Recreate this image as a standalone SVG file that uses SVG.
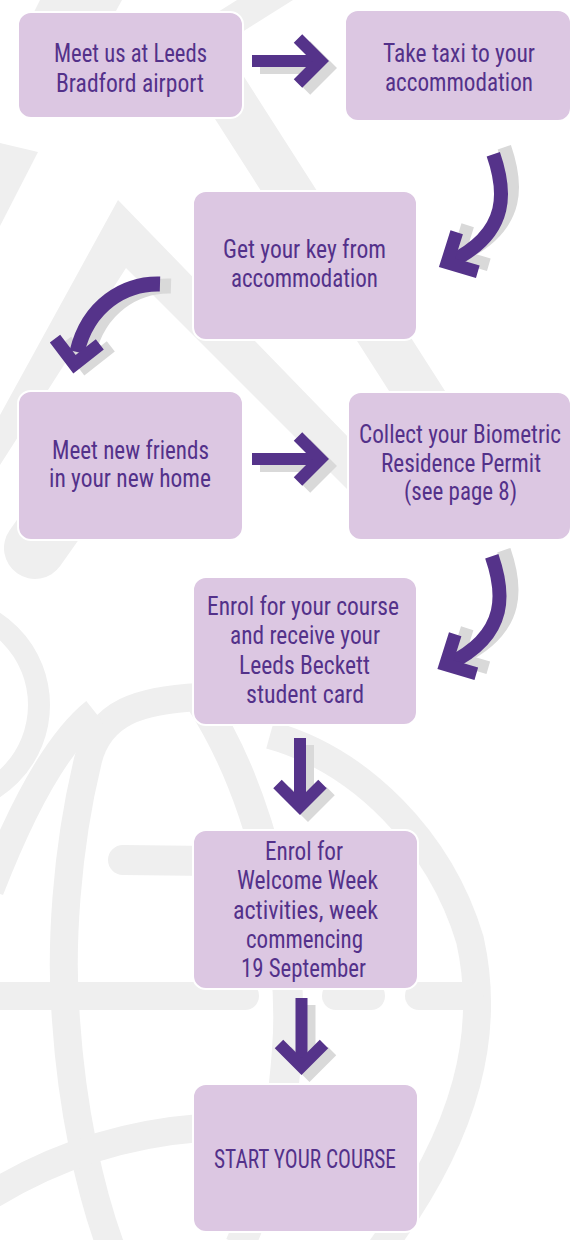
<svg xmlns="http://www.w3.org/2000/svg" width="579" height="1240" viewBox="0 0 579 1240">
<style>
.box{fill:#dcc7e2;stroke:#ffffff;stroke-width:2}
.t{font-family:"Liberation Sans Narrow","Roboto Condensed","DejaVu Sans Condensed","Liberation Sans",sans-serif;font-stretch:condensed;font-size:25px;fill:#53318a;text-anchor:middle}
.arr{fill:none;stroke:#55338a;stroke-linejoin:miter;stroke-miterlimit:10}
.sh{fill:none;stroke:#d9d9d9;stroke-linejoin:miter;stroke-miterlimit:10}
.bg{fill:#efefef}
.bgs{fill:none;stroke:#efefef}
</style>
<defs>
<g id="rightArrow">
<line x1="252" y1="61" x2="320" y2="61" stroke-width="12"/>
<polyline points="298,38.5 320.5,61 298,83.5" stroke-width="12"/>
</g>
<g id="downArrow">
<line x1="300" y1="738" x2="300" y2="806" stroke-width="12"/>
<polyline points="277.5,784 300,806.5 322.5,784" stroke-width="12"/>
</g>
<g id="curveRight">
<path d="M493.3 154.2 C505 188 512 232 450 262" stroke-width="14"/>
<polyline points="456.7,232.3 447.1,262.7 477.8,271.7" stroke-width="13"/>
</g>
<g id="curveLeft">
<path d="M160 284 C125 283 88 305 77 352" stroke-width="15"/>
<polyline points="55,338.6 74.5,364.2 99.8,344.4" stroke-width="13"/>
</g>
</defs>
<rect width="579" height="1240" fill="#ffffff"/>
<g id="background">
<polygon class="bg" points="40,0 122,0 100,40 20,40"/>
<polygon class="bg" points="0,143 38,152 0,226"/>
<polygon class="bg" points="237,0 293,0 223,44 527.6,520 471.6,520 167,44"/>
<polygon class="bg" points="118,200 448,540 398,540 126,268 0,465 0,415"/>
<line class="bgs" x1="90" y1="470" x2="35" y2="548" stroke-width="62" stroke-linecap="round"/>
<circle class="bgs" cx="-60" cy="705" r="99" stroke-width="22"/>
<path class="bgs" d="M200 697 C140 700 100 712 88 760 C66 850 60 950 66 1020 C72 1110 90 1190 110 1245" stroke-width="28"/>
<path class="bgs" d="M95 712 C60 740 25 800 -10 890" stroke-width="28"/>
<path class="bgs" d="M270 735 C360 760 440 840 470 940 C490 1030 470 1130 380 1250" stroke-width="28"/>
<path class="bgs" d="M200 700 C265 800 295 950 287 1050 C280 1150 260 1200 240 1245" stroke-width="30"/>
<path class="bgs" d="M123 860 L300 862" stroke-width="30" stroke-linecap="round"/>
<line class="bgs" x1="-20" y1="996" x2="245" y2="996" stroke-width="28" stroke-linecap="round"/>
<line class="bgs" x1="336" y1="996" x2="371" y2="996" stroke-width="28" stroke-linecap="round"/>
<line class="bgs" x1="419" y1="996" x2="470" y2="996" stroke-width="28" stroke-linecap="round"/>
<path class="bgs" d="M-10 1196 C40 1165 110 1135 200 1128 L300 1126" stroke-width="28"/>
</g>
<g id="connectors">
<use href="#rightArrow" class="sh" transform="translate(8,7)"/>
<use href="#rightArrow" class="arr"/>
<use href="#curveRight" class="sh" transform="translate(11,-7)"/>
<use href="#curveRight" class="arr"/>
<use href="#curveLeft" class="sh" transform="translate(11,2)"/>
<use href="#curveLeft" class="arr"/>
<use href="#rightArrow" class="sh" transform="translate(8,405)"/>
<use href="#rightArrow" class="arr" transform="translate(0,398)"/>
<use href="#curveRight" class="sh" transform="translate(10.5,396)"/>
<use href="#curveRight" class="arr" transform="translate(-1.5,402)"/>
<use href="#downArrow" class="sh" transform="translate(8,7)"/>
<use href="#downArrow" class="arr"/>
<use href="#downArrow" class="sh" transform="translate(9.5,267)"/>
<use href="#downArrow" class="arr" transform="translate(1.5,260)"/>
</g>
<g id="node-airport">
<rect class="box" x="18" y="12" width="225" height="106" rx="13"/>
<text class="t" x="130.5" y="62" textLength="153" lengthAdjust="spacingAndGlyphs">Meet us at Leeds</text>
<text class="t" x="130" y="92" textLength="148" lengthAdjust="spacingAndGlyphs">Bradford airport</text>
</g>
<g id="node-taxi">
<rect class="box" x="345" y="10" width="226" height="111" rx="13"/>
<text class="t" x="459" y="62" textLength="152" lengthAdjust="spacingAndGlyphs">Take taxi to your</text>
<text class="t" x="459" y="91" textLength="148" lengthAdjust="spacingAndGlyphs">accommodation</text>
</g>
<g id="node-key">
<rect class="box" x="193" y="191" width="224" height="149" rx="13"/>
<text class="t" x="304.5" y="258" textLength="163" lengthAdjust="spacingAndGlyphs">Get your key from</text>
<text class="t" x="304.5" y="287" textLength="147" lengthAdjust="spacingAndGlyphs">accommodation</text>
</g>
<g id="node-friends">
<rect class="box" x="18" y="391" width="225" height="149" rx="13"/>
<text class="t" x="130.5" y="459" textLength="157" lengthAdjust="spacingAndGlyphs">Meet new friends</text>
<text class="t" x="130" y="487" textLength="162" lengthAdjust="spacingAndGlyphs">in your new home</text>
</g>
<g id="node-permit">
<rect class="box" x="348" y="392" width="223" height="148" rx="13"/>
<text class="t" x="460" y="443" textLength="202" lengthAdjust="spacingAndGlyphs">Collect your Biometric</text>
<text class="t" x="461" y="472" textLength="160" lengthAdjust="spacingAndGlyphs">Residence Permit</text>
<text class="t" x="460.5" y="500" textLength="113" lengthAdjust="spacingAndGlyphs">(see page 8)</text>
</g>
<g id="node-enrol-course">
<rect class="box" x="193" y="577" width="224" height="148" rx="13"/>
<text class="t" x="303" y="614.5" textLength="192" lengthAdjust="spacingAndGlyphs">Enrol for your course</text>
<text class="t" x="305" y="644" textLength="150" lengthAdjust="spacingAndGlyphs">and receive your</text>
<text class="t" x="304.5" y="673.5" textLength="131" lengthAdjust="spacingAndGlyphs">Leeds Beckett</text>
<text class="t" x="305" y="703" textLength="118" lengthAdjust="spacingAndGlyphs">student card</text>
</g>
<g id="node-welcome">
<rect class="box" x="193" y="830" width="225" height="159" rx="13"/>
<text class="t" x="304" y="860" textLength="78" lengthAdjust="spacingAndGlyphs">Enrol for</text>
<text class="t" x="307.5" y="889" textLength="141" lengthAdjust="spacingAndGlyphs">Welcome Week</text>
<text class="t" x="305.5" y="919" textLength="145" lengthAdjust="spacingAndGlyphs">activities, week</text>
<text class="t" x="304.5" y="948" textLength="117" lengthAdjust="spacingAndGlyphs">commencing</text>
<text class="t" x="303.5" y="977" textLength="125" lengthAdjust="spacingAndGlyphs">19 September</text>
</g>
<g id="node-start">
<rect class="box" x="193" y="1084" width="225" height="148" rx="13"/>
<text class="t" x="305" y="1168" textLength="182" lengthAdjust="spacingAndGlyphs">START YOUR COURSE</text>
</g>
</svg>
